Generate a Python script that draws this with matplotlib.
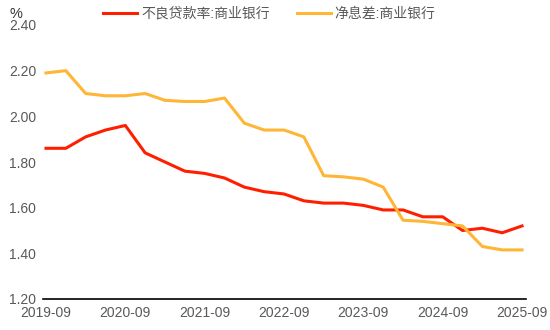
import numpy as np
import matplotlib
matplotlib.use("Agg")
import matplotlib.pyplot as plt

plt.rcParams['font.family'] = ['Liberation Sans', 'Noto Sans CJK SC', 'DejaVu Sans']

# quarterly data, 2019-09 .. 2025-09
quarters = ["2019-09", "2019-12", "2020-03", "2020-06", "2020-09", "2020-12",
            "2021-03", "2021-06", "2021-09", "2021-12", "2022-03", "2022-06",
            "2022-09", "2022-12", "2023-03", "2023-06", "2023-09", "2023-12",
            "2024-03", "2024-06", "2024-09", "2024-12", "2025-03", "2025-06",
            "2025-09"]
npl = [1.86, 1.86, 1.91, 1.94, 1.96, 1.84, 1.80, 1.76, 1.75, 1.73, 1.69, 1.67,
       1.66, 1.63, 1.62, 1.62, 1.61, 1.59, 1.59, 1.56, 1.56, 1.50, 1.51, 1.49,
       1.52]
nim = [2.19, 2.20, 2.10, 2.09, 2.09, 2.10, 2.07, 2.065, 2.065, 2.08, 1.97, 1.94,
       1.94, 1.91, 1.74, 1.735, 1.725, 1.69, 1.545, 1.54, 1.53, 1.52, 1.43, 1.415,
       1.415]
labels = ["不良贷款率:商业银行", "净息差:商业银行"]
colors = ["#FF1E00", "#FFB535"]
ytick_vals = [1.2, 1.4, 1.6, 1.8, 2.0, 2.2, 2.4]

x = np.arange(len(quarters))

fig = plt.figure(figsize=(5.5, 3.3), dpi=100)
ax = fig.add_axes([43 / 550, 31 / 330, 483 / 550, 274 / 330])

ax.plot(x, npl, color=colors[0], lw=2.2, label=labels[0])
ax.plot(x, nim, color=colors[1], lw=2.2, label=labels[1])

ax.set_xlim(-0.15, 24.2)
ax.set_ylim(1.2, 2.4)
ax.set_yticks(ytick_vals)
ax.set_yticklabels([f"{v:.2f}" for v in ytick_vals])
ax.set_xticks(x[::4])
ax.set_xticklabels(quarters[::4])

for s in ["top", "right", "left"]:
    ax.spines[s].set_visible(False)
ax.spines["bottom"].set_color("black")
ax.spines["bottom"].set_linewidth(1.2)
ax.tick_params(axis="both", length=0, labelsize=10, colors="#595959")
ax.tick_params(axis="y", pad=5)
ax.tick_params(axis="x", pad=5)

fig.text(10 / 550, 1 - 14 / 330, "%", fontsize=10.5, color="#333333",
         ha="left", va="center")

leg = fig.legend(loc="upper center", bbox_to_anchor=(0.49, 1.018), ncol=2,
                 frameon=False, fontsize=10, handlelength=2.4, handletextpad=0.3,
                 columnspacing=2.0)
for t in leg.get_texts():
    t.set_color("#595959")

fig.savefig("out.png", dpi=100)
